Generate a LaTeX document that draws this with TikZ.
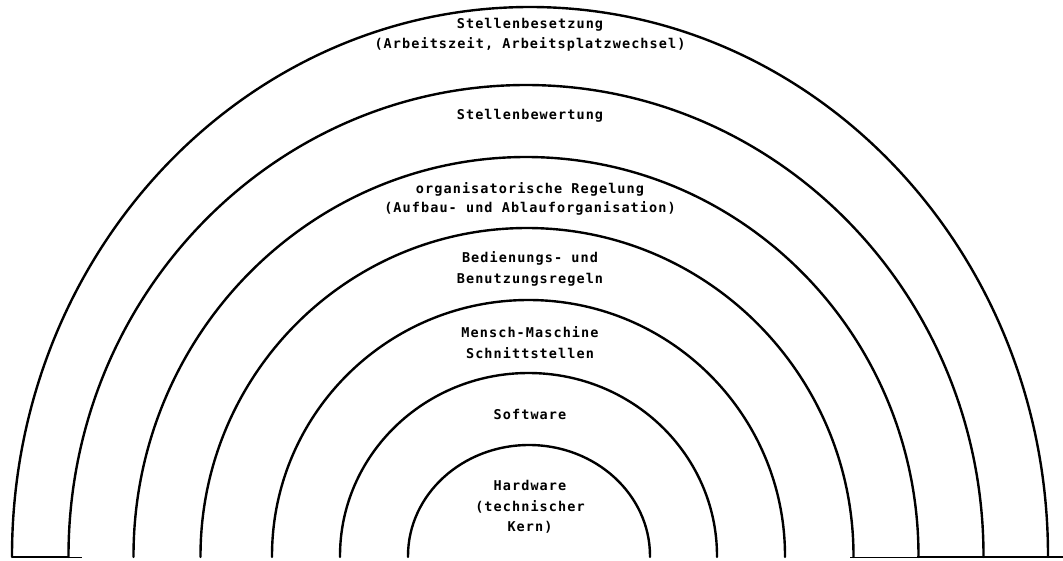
\documentclass[tikz,border=0pt]{standalone}
\usepackage{fontspec}
\newfontfamily\typ[LetterSpace=8]{DejaVu Sans Mono}
\begin{document}
\begin{tikzpicture}[x=1pt,y=-1pt,
  arcline/.style={line width=2.4pt, line cap=round},
  baseline/.style={line width=2.2pt},
  thinbase/.style={line width=0.8pt},
  label/.style={anchor=base, inner sep=0pt, font=\typ\bfseries\fontsize{13.5pt}{16pt}\selectfont}]
\useasboundingbox (0,0) rectangle (1063,560);
% arches (centre x, x radius, y radius)
\foreach \cx/\rx/\ry in {530/518/549, 526/457.5/471, 526/392.5/399, 527/326.5/328, 528.5/256.5/256, 528.5/188.5/183, 529/121/111}{
  \draw[arcline] (\cx-\rx,557) -- (\cx-\rx,556) arc[start angle=180, end angle=360, x radius=\rx, y radius=\ry] -- (\cx+\rx,557);
}
% base lines
\coordinate (bl1) at (12,557);
\coordinate (bl2) at (68,557);
\coordinate (bl3) at (82,557);
\draw[baseline] (bl1) -- (bl2);
\draw[thinbase] (bl2) -- (bl3);
\coordinate (br1) at (850,557);
\coordinate (br2) at (917,557);
\coordinate (br3) at (1063,557);
\draw[thinbase] (br1) -- (br2);
\draw[baseline] (br2) -- (br3);
% labels
\node[label] (besetzungA) at (530,28) {Stellenbesetzung};
\node[label] (besetzungB) at (530,48) {(Arbeitszeit, Arbeitsplatzwechsel)};
\node[label] (bewertung) at (530,119) {Stellenbewertung};
\node[label] (regelungA) at (530,193) {organisatorische Regelung};
\node[label] (regelungB) at (530,212) {(Aufbau- und Ablauforganisation)};
\node[label] (bedienungA) at (530,262) {Bedienungs- und};
\node[label] (bedienungB) at (530,283) {Benutzungsregeln};
\node[label] (menschA) at (530,337) {Mensch-Maschine};
\node[label] (menschB) at (530,358) {Schnittstellen};
\node[label] (software) at (530,419) {Software};
\node[label] (hardwareA) at (530,490) {Hardware};
\node[label] (hardwareB) at (530,511) {(technischer};
\node[label] (hardwareC) at (530,531) {Kern)};
\end{tikzpicture}
\end{document}
